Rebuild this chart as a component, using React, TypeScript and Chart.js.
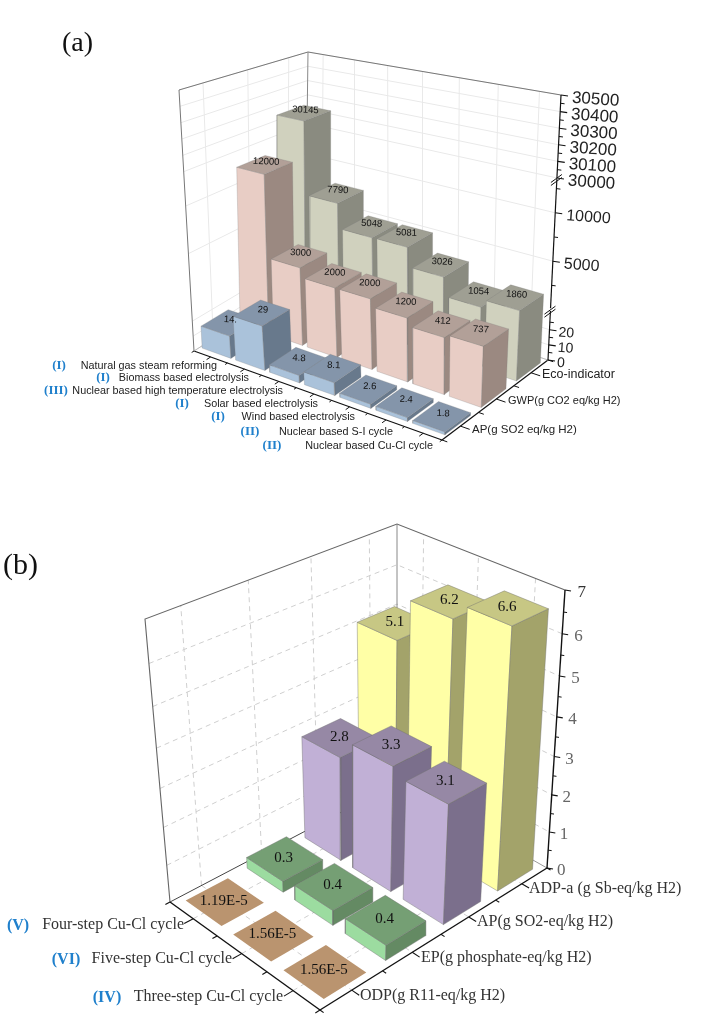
import React, { useEffect, useRef } from "react";
import { Chart, registerables } from "chart.js";

Chart.register(...registerables);

// ---------- DATA ----------
const categoriesA = [
  "Natural gas steam reforming",
  "Biomass based electrolysis",
  "Nuclear based high temperature electrolysis",
  "Solar based electrolysis",
  "Wind based electrolysis",
  "Nuclear based S-I cycle",
  "Nuclear based Cu-Cl cycle",
];
const romanA = ["(I)", "(I)", "(III)", "(I)", "(I)", "(II)", "(II)"];
const seriesA = ["AP(g SO2 eq/kg H2)", "GWP(g CO2 eq/kg H2)", "Eco-indicator"];
const apValues = [14.8, 29, 4.8, 8.1, 2.6, 2.4, 1.8];
const apLabels = ["14.", "29", "4.8", "8.1", "2.6", "2.4", "1.8"];
const gwpValues = [12000, 3000, 2000, 2000, 1200, 412, 737];
const ecoValues = [30145, 7790, 5048, 5081, 3026, 1054, 1860];
const tickLabelsA = [0, 10, 20, 5000, 10000, 30000, 30100, 30200, 30300, 30400, 30500];
const minorTicksA = [5, 15, 25, 2500, 7500, 12500, 30050, 30150, 30250, 30350, 30450];

const categoriesB = ["Four-step Cu-Cl cycle", "Five-step Cu-Cl cycle", "Three-step Cu-Cl cycle"];
const romanB = ["(V)", "(VI)", "(IV)"];
const seriesB = ["ODP(g R11-eq/kg H2)", "EP(g phosphate-eq/kg H2)", "AP(g SO2-eq/kg H2)", "ADP-a (g Sb-eq/kg H2)"];
const odpValues = [1.19e-5, 1.56e-5, 1.56e-5];
const odpLabels = ["1.19E-5", "1.56E-5", "1.56E-5"];
const epValues = [0.3, 0.4, 0.4];
const apbValues = [2.8, 3.3, 3.1];
const adpValues = [5.1, 6.2, 6.6];
const tickLabelsB = [0, 1, 2, 3, 4, 5, 6, 7];
const minorTicksB = [0.5, 1.5, 2.5, 3.5, 4.5, 5.5, 6.5];

// ---------- LAYOUT ----------
type Pt = { x: number; y: number };
const W = 724;
const H = 1022;
const P = (x: number, y: number): Pt => ({ x, y });

function homography(p0: Pt, p1: Pt, p2: Pt, p3: Pt) {
  const dx1 = p1.x - p2.x, dx2 = p3.x - p2.x, sx = p0.x - p1.x + p2.x - p3.x;
  const dy1 = p1.y - p2.y, dy2 = p3.y - p2.y, sy = p0.y - p1.y + p2.y - p3.y;
  const det = dx1 * dy2 - dx2 * dy1;
  const g = (sx * dy2 - dx2 * sy) / det;
  const h = (dx1 * sy - sx * dy1) / det;
  const a = p1.x - p0.x + g * p1.x, b = p3.x - p0.x + h * p3.x;
  const d = p1.y - p0.y + g * p1.y, e = p3.y - p0.y + h * p3.y;
  return (u: number, v: number): Pt => {
    const w = g * u + h * v + 1;
    return { x: (a * u + b * v + p0.x) / w, y: (d * u + e * v + p0.y) / w };
  };
}
function box(floor: Pt[], top: Pt[]) {
  const f = homography(floor[0], floor[1], floor[2], floor[3]);
  const t = homography(top[0], top[1], top[2], top[3]);
  return (c: number, s: number, h: number): Pt => {
    const a = f(c, s), b = t(c, s);
    return { x: a.x + (b.x - a.x) * h, y: a.y + (b.y - a.y) * h };
  };
}
// corners: left, front, right, back
const projA = box(
  [P(194, 351), P(442, 440), P(548, 360), P(305, 280)],
  [P(179, 90), P(445, 150), P(561, 95), P(308, 52)]
);
const projB = box(
  [P(170, 902), P(320, 1010), P(547, 868), P(397, 783)],
  [P(145, 619), P(323, 703), P(565, 590), P(397, 524)]
);

// broken value axis of panel (a): value ranges and their share of the axis height
const breaksA = [
  [0, 35, 0, 0.2],
  [400, 13000, 0.205, 0.665],
  [30000, 30500, 0.687, 1],
];
function heightA(v: number) {
  for (const [v0, v1, h0, h1] of breaksA) {
    if (v <= v1) return h0 + ((Math.max(v, v0) - v0) / (v1 - v0)) * (h1 - h0);
  }
  return 1;
}
// the camera looks down, so equal value steps grow towards the top of the axis
const heightB = (v: number) => {
  const t = v / 7;
  return t / (1 + 0.12 * (1 - t));
};

type Cols = { front: string; side: string; top: string };
const blue: Cols = { front: "#aac2da", side: "#68798c", top: "#8495aa" };
const pink: Cols = { front: "#e8cdc5", side: "#9b8981", top: "#b2a098" };
const olive: Cols = { front: "#d0d1be", side: "#8a8b80", top: "#9f9f93" };
const tan: Cols = { front: "#b8926e", side: "#b8926e", top: "#ba946f" };
const green: Cols = { front: "#9cdca0", side: "#648a63", top: "#759f74" };
const purple: Cols = { front: "#c1b0d6", side: "#7b6f8c", top: "#9688a5" };
const yellow: Cols = { front: "#ffffa6", side: "#a3a36a", top: "#c7c784" };

type Label = { text: string; x: number; y: number; font: string; color: string; align?: CanvasTextAlign; rot?: number };

function buildScene() {
  const sets: any[] = [];
  const labels: Label[] = [];
  const line = (pts: Pt[], color: string, width = 1, dash: number[] = []) =>
    sets.push({ data: pts, showLine: true, borderColor: color, borderWidth: width, borderDash: dash, pointRadius: 0, fill: false, tension: 0, clip: false });
  const poly = (pts: Pt[], color: string, edge: string, width = 0.7) =>
    sets.push({ data: [...pts, pts[0]], showLine: true, backgroundColor: color, borderColor: edge, borderWidth: width, pointRadius: 0, fill: "shape", tension: 0, clip: false });

  const bars = (
    proj: (c: number, s: number, h: number) => Pt,
    rows: { values: number[]; text: string[]; cols: Cols; edge: string }[],
    hf: (v: number) => number,
    wc: number,
    ws: number,
    font: string,
    rot: number,
    shift: Pt
  ) => {
    const nc = rows[0].values.length, ns = rows.length;
    for (let j = ns - 1; j >= 0; j--) {
      rows[j].values.forEach((v, i) => {
        const c0 = (i + 0.5 - wc / 2) / nc, c1 = (i + 0.5 + wc / 2) / nc;
        const s0 = (j + 0.5 - ws / 2) / ns, s1 = (j + 0.5 + ws / 2) / ns;
        const h = hf(v);
        const { front, side, top } = rows[j].cols;
        const edge = rows[j].edge;
        poly([proj(c0, s0, 0), proj(c1, s0, 0), proj(c1, s0, h), proj(c0, s0, h)], front, edge);
        poly([proj(c1, s0, 0), proj(c1, s1, 0), proj(c1, s1, h), proj(c1, s0, h)], side, edge);
        poly([proj(c0, s0, h), proj(c1, s0, h), proj(c1, s1, h), proj(c0, s1, h)], top, edge);
        const m = proj((c0 + c1) / 2, (s0 + s1) / 2, h);
        labels.push({ text: rows[j].text[i], x: m.x + shift.x, y: m.y + shift.y, font, color: "#111", align: "center", rot });
      });
    }
  };

  // ---- Panel (a) ----
  const gridA = "#e9e9e9";
  for (const v of tickLabelsA) {
    const h = heightA(v);
    line([projA(0, 0, h), projA(0, 1, h), projA(1, 1, h)], gridA);
  }
  for (let k = 0; k < 3; k++) line([projA(0, (k + 0.5) / 3, 0), projA(0, (k + 0.5) / 3, 1)], gridA);
  for (let k = 0; k < 7; k++) line([projA((k + 0.5) / 7, 1, 0), projA((k + 0.5) / 7, 1, 1)], gridA);
  line([projA(0, 0, 0), projA(1, 0, 0)], "#111", 1.2);
  line([projA(1, 0, 0), projA(1, 1, 0)], "#111", 1.2);
  line([projA(1, 1, 0), projA(0, 1, 0)], "#bbb", 1);
  line([projA(0, 0, 0), projA(0, 1, 0)], "#bbb", 1);
  line([projA(0, 0, 0), projA(0, 0, 1), projA(0, 1, 1), projA(1, 1, 1)], "#777", 1);
  line([projA(0, 1, 0), projA(0, 1, 1)], "#888", 1);
  const breakLow = 0.185, breakHigh = 0.683;
  line([projA(1, 1, 0), projA(1, 1, breakLow)], "#111", 1.2);
  line([projA(1, 1, breakLow + 0.01), projA(1, 1, breakHigh)], "#111", 1.2);
  line([projA(1, 1, breaksA[2][2]), projA(1, 1, 1)], "#111", 1.2);
  for (const b of [breakLow + 0.003, breakHigh + 0.002]) {
    const p = projA(1, 1, b);
    line([P(p.x - 6, p.y + 4), P(p.x + 5, p.y - 4)], "#111", 1);
    line([P(p.x - 6, p.y + 7), P(p.x + 5, p.y - 1)], "#111", 1);
  }
  for (const v of tickLabelsA) {
    const p = projA(1, 1, heightA(v));
    line([p, P(p.x + 7, p.y + 1)], "#111", 1.1);
    const size = v <= 20 ? 14 : v < 30000 ? 16 : 17;
    labels.push({ text: String(v), x: p.x + (v <= 20 ? 9 : 11), y: p.y + 3, font: `${size}px "Liberation Sans"`, color: "#222", align: "left", rot: 0.07 });
  }
  for (const v of minorTicksA) {
    const p = projA(1, 1, heightA(v));
    line([p, P(p.x + 4, p.y + 0.5)], "#111", 1);
  }
  for (let k = 0; k <= 14; k++) {
    const c = k / 14;
    const a = projA(c, 0, 0), b = projA(c, -(k % 2 ? 0.035 : 0.02), 0);
    line([a, b], "#111", 1);
  }
  for (let k = 0; k <= 6; k++) {
    const s = k / 6;
    const a = projA(1, s, 0), b = projA(1 + (k % 2 ? 0.035 : 0.02), s, 0);
    line([a, b], "#111", 1);
  }
  const edgeA = "rgba(120,120,120,0.35)";
  bars(
    projA,
    [
      { values: apValues, text: apLabels, cols: blue, edge: edgeA },
      { values: gwpValues, text: gwpValues.map(String), cols: pink, edge: edgeA },
      { values: ecoValues, text: ecoValues.map(String), cols: olive, edge: edgeA },
    ],
    heightA, 0.86, 0.7, '9.5px "Liberation Sans"', 0.05, P(1.5, -3)
  );

  const endA = [217, 249, 283, 318, 355, 393, 433];
  const rowA = [366, 378, 391, 404, 417, 432, 446];
  const romanXA = [59, 103, 56, 182, 218, 250, 272];
  categoriesA.forEach((t, i) => {
    labels.push({ text: t, x: endA[i], y: rowA[i], font: '10.8px "Liberation Sans"', color: "#222", align: "right" });
    labels.push({ text: romanA[i], x: romanXA[i], y: rowA[i], font: 'bold 13px "Liberation Serif"', color: "#2080cc", align: "center" });
  });
  const serXA = [472, 508, 542];
  const serYA = [430, 401, 375];
  const serSizeA = [11.5, 11, 12.5];
  seriesA.forEach((t, i) =>
    labels.push({ text: t, x: serXA[i], y: serYA[i], font: `${serSizeA[i]}px "Liberation Sans"`, color: "#222", align: "left" })
  );
  labels.push({ text: "(a)", x: 62, y: 44, font: '28px "Liberation Serif"', color: "#111", align: "left" });

  // ---- Panel (b) ----
  const gridB = "#cfcfcf";
  const dash = [5, 4];
  for (const v of tickLabelsB.slice(1, 7)) {
    const h = heightB(v);
    line([projB(0, 0, h), projB(0, 1, h), projB(1, 1, h)], gridB, 1, dash);
  }
  for (let k = 0; k < 4; k++) {
    line([projB(0, (k + 0.5) / 4, 0), projB(0, (k + 0.5) / 4, 1)], gridB, 1, dash);
    line([projB(0, (k + 0.5) / 4, 0), projB(1, (k + 0.5) / 4, 0)], gridB, 1, dash);
  }
  for (let k = 0; k < 3; k++) {
    line([projB((k + 0.5) / 3, 1, 0), projB((k + 0.5) / 3, 1, 1)], gridB, 1, dash);
    line([projB((k + 0.5) / 3, 0, 0), projB((k + 0.5) / 3, 1, 0)], gridB, 1, dash);
  }
  line([projB(0, 0, 0), projB(0, 1, 0)], "#444", 1);
  line([projB(0, 1, 0), projB(1, 1, 0)], "#999", 1);
  line([projB(0, 0, 0), projB(0, 0, 1), projB(0, 1, 1), projB(1, 1, 1)], "#666", 1.1);
  line([projB(0, 1, 0), projB(0, 1, 1)], "#888", 1);
  line([projB(0, 0, 0), projB(1, 0, 0)], "#111", 1.4);
  line([projB(1, 0, 0), projB(1, 1, 0)], "#111", 1.4);
  line([projB(1, 1, 0), projB(1, 1, 1)], "#111", 1.4);
  for (const v of tickLabelsB) {
    const p = projB(1, 1, heightB(v));
    line([p, P(p.x + 6, p.y + 1)], "#111", 1.2);
    labels.push({ text: String(v), x: p.x + 10 + v * 0.35, y: p.y + 3, font: '17px "Liberation Serif"', color: v === 7 ? "#333" : "#666", align: "left" });
  }
  for (const v of minorTicksB) {
    const p = projB(1, 1, heightB(v));
    line([p, P(p.x + 3.5, p.y + 0.5)], "#111", 1);
  }
  for (let k = 0; k <= 6; k++) {
    const a = projB(k / 6, 0, 0), b = projB(k / 6, k % 2 ? -0.035 : -0.018, 0);
    line([a, b], "#111", 1.1);
  }
  for (let k = 0; k <= 8; k++) {
    const a = projB(1, k / 8, 0), b = projB(1 + (k % 2 ? 0.045 : 0.022), k / 8, 0);
    line([a, b], "#111", 1.1);
  }
  const edgeB = "rgba(110,110,110,0.6)";
  bars(
    projB,
    [
      { values: odpValues, text: odpLabels, cols: tan, edge: "rgba(184,146,110,0)" },
      { values: epValues, text: epValues.map((v) => v.toFixed(1)), cols: green, edge: edgeB },
      { values: apbValues, text: apbValues.map((v) => v.toFixed(1)), cols: purple, edge: edgeB },
      { values: adpValues, text: adpValues.map((v) => v.toFixed(1)), cols: yellow, edge: edgeB },
    ],
    heightB, 0.76, 0.68, '15px "Liberation Serif"', 0, P(-1, -1)
  );
  const catXB = [184, 232, 283];
  const catYB = [925, 959, 997];
  const romanXB = [18, 66, 107];
  categoriesB.forEach((t, i) => {
    labels.push({ text: t, x: catXB[i], y: catYB[i], font: '16px "Liberation Serif"', color: "#333", align: "right" });
    labels.push({ text: romanB[i], x: romanXB[i], y: catYB[i] + 1, font: 'bold 16px "Liberation Serif"', color: "#2080cc", align: "center" });
  });
  const serXB = [360, 421, 477, 529];
  const serYB = [996, 958, 922, 889];
  seriesB.forEach((t, i) =>
    labels.push({ text: t, x: serXB[i], y: serYB[i], font: '16px "Liberation Serif"', color: "#333", align: "left" })
  );
  labels.push({ text: "(b)", x: 3, y: 566, font: '30px "Liberation Serif"', color: "#111", align: "left" });
  return { sets, labels };
}

export default function App() {
  const ref = useRef<HTMLCanvasElement>(null);
  useEffect(() => {
    if (!ref.current) return;
    const { sets, labels } = buildScene();
    const textPlugin = {
      id: "sceneText",
      afterDatasetsDraw(chart: any) {
        const { ctx, scales } = chart;
        for (const l of labels) {
          ctx.save();
          ctx.translate(scales.x.getPixelForValue(l.x), scales.y.getPixelForValue(l.y));
          if (l.rot) ctx.rotate(l.rot);
          ctx.font = l.font;
          ctx.fillStyle = l.color;
          ctx.textAlign = l.align || "left";
          ctx.textBaseline = "middle";
          ctx.fillText(l.text, 0, 0);
          ctx.restore();
        }
      },
    };
    const chart = new Chart(ref.current, {
      type: "scatter",
      // the first dataset is painted last, so the back-to-front list is reversed
      data: { datasets: [...sets].reverse() },
      options: {
        animation: false,
        responsive: false,
        events: [],
        layout: { padding: 0 },
        scales: {
          x: { type: "linear", min: 0, max: W, display: false },
          y: { type: "linear", min: 0, max: H, reverse: true, display: false },
        },
        plugins: { legend: { display: false }, tooltip: { enabled: false }, title: { display: false } },
      },
      plugins: [textPlugin],
    } as any);
    return () => chart.destroy();
  }, []);
  return (
    <div style={{ position: "absolute", left: 0, top: 0, width: W, height: H, background: "#fff" }}>
      <canvas ref={ref} width={W} height={H} style={{ display: "block", filter: "blur(0.45px)" }} />
    </div>
  );
}
